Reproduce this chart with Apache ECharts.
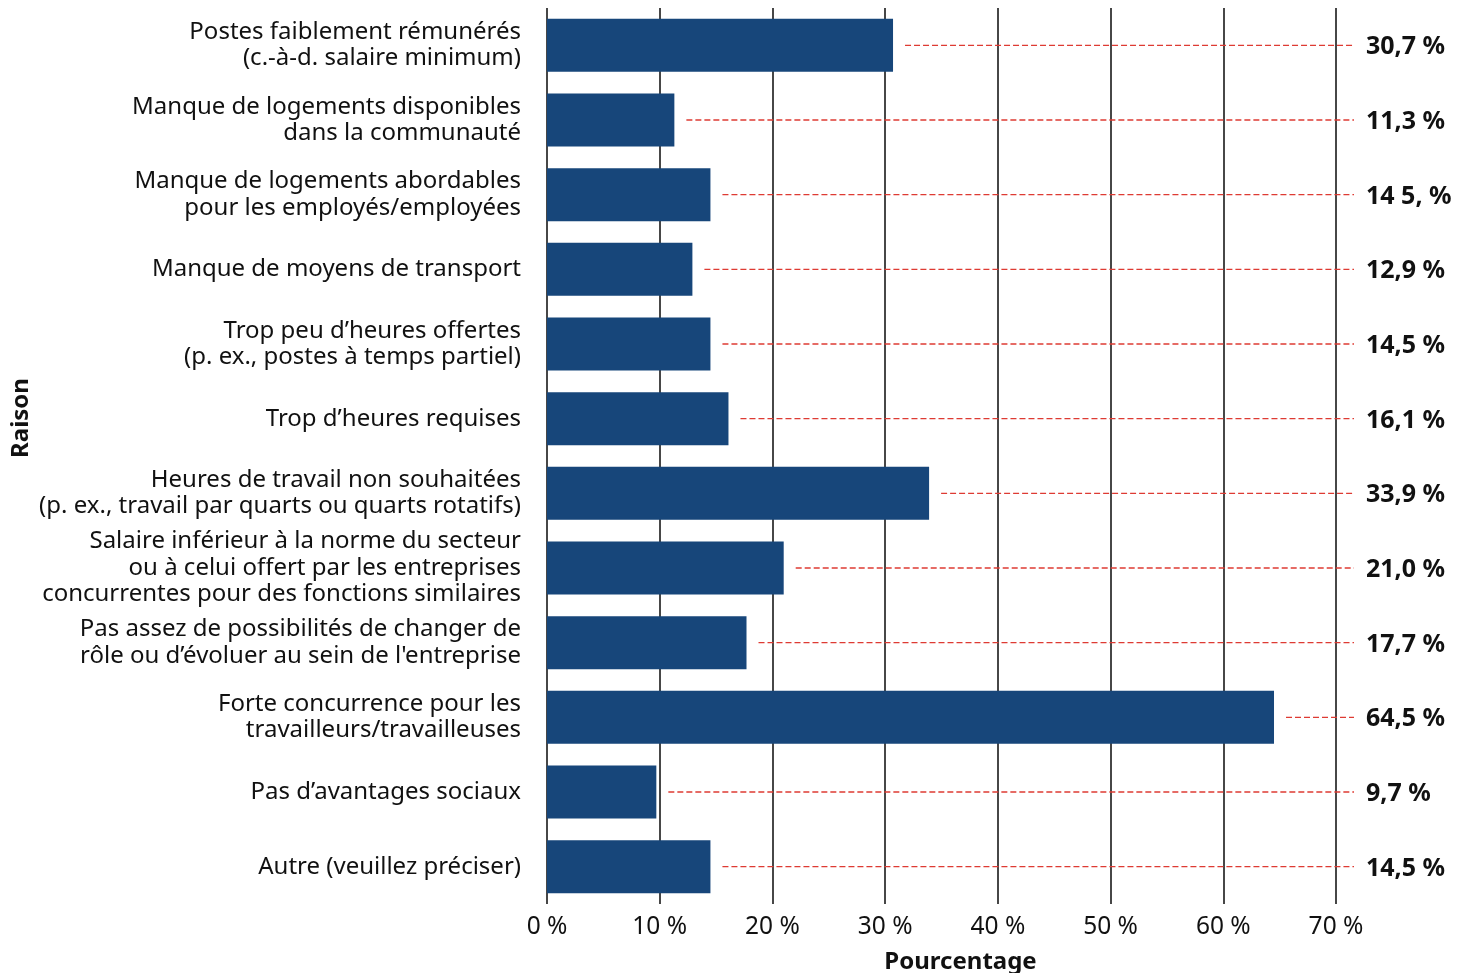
<!DOCTYPE html>
<html>
<head>
<meta charset="utf-8">
<script src="https://cdn.jsdelivr.net/npm/echarts@6/dist/echarts.min.js"></script>
<style>
  html, body { margin: 0; padding: 0; background: #fff; }
  #chart { width: 1465px; height: 973px; }
</style>
</head>
<body>
<div id="chart"></div>
<script>
// Reasons given for recruitment difficulties, share of respondents (%)
const categories = [
  "Postes faiblement rémunérés\n(c.-à-d. salaire minimum)",
  "Manque de logements disponibles\ndans la communauté",
  "Manque de logements abordables\npour les employés/employées",
  "Manque de moyens de transport",
  "Trop peu d’heures offertes\n(p. ex., postes à temps partiel)",
  "Trop d’heures requises",
  "Heures de travail non souhaitées\n(p. ex., travail par quarts ou quarts rotatifs)",
  "Salaire inférieur à la norme du secteur\nou à celui offert par les entreprises\nconcurrentes pour des fonctions similaires",
  "Pas assez de possibilités de changer de\nrôle ou d’évoluer au sein de l'entreprise",
  "Forte concurrence pour les\ntravailleurs/travailleuses",
  "Pas d’avantages sociaux",
  "Autre (veuillez préciser)"
];
const values = [30.7, 11.3, 14.5, 12.9, 14.5, 16.1, 33.9, 21.0, 17.7, 64.5, 9.7, 14.5];
const valueLabels = ["30,7 %", "11,3 %", "14 5, %", "12,9 %", "14,5 %", "16,1 %", "33,9 %", "21,0 %", "17,7 %", "64,5 %", "9,7 %", "14,5 %"];
const xTicks = [0, 10, 20, 30, 40, 50, 60, 70];

const FONT = "'Noto Sans', 'Open Sans', sans-serif";
const BAR = "#17467a";

const chart = echarts.init(document.getElementById('chart'), null, { renderer: 'canvas' });

chart.setOption({
  animation: false,
  backgroundColor: '#fff',
  grid: { left: 547, right: 129, top: 8, bottom: 69, containLabel: false, outerBoundsMode: 'none' },
  xAxis: {
    type: 'value',
    min: xTicks[0],
    max: xTicks[xTicks.length - 1],
    interval: 10,
    name: 'Pourcentage',
    nameLocation: 'middle',
    nameGap: 46,
    nameMoveOverlap: false,
    nameTextStyle: { fontFamily: FONT, fontSize: 24, fontWeight: 'bold', color: '#111', padding: [0, 0, 0, 38] },
    axisLine: { show: false },
    axisTick: { show: false },
    axisLabel: { fontFamily: FONT, fontSize: 24.5, color: '#111', margin: 11, formatter: v => v + ' %' },
    splitLine: { show: true, lineStyle: { color: '#333', width: 1.8 } }
  },
  yAxis: {
    type: 'category',
    data: categories,
    inverse: true,
    name: 'Raison',
    nameLocation: 'middle',
    nameGap: 514,
    nameMoveOverlap: false,
    nameRotate: 90,
    nameTextStyle: { fontFamily: FONT, fontSize: 24, fontWeight: 'bold', color: '#111', padding: [0, 0, 0, 76] },
    axisLine: { show: false },
    axisTick: { show: false },
    axisLabel: { fontFamily: FONT, fontSize: 24, color: '#111', margin: 26, lineHeight: 26.5, align: 'right' }
  },
  series: [
    {
      type: 'bar',
      data: values,
      barWidth: 53,
      itemStyle: { color: BAR },
      z: 3
    },
    {
      // dashed leader from each bar end to its value label on the right
      type: 'custom',
      data: values.map((v, i) => [v, i]),
      encode: { x: 0, y: 1 },
      z: 4,
      renderItem: function (params, api) {
        const p = api.coord([api.value(0), api.value(1)]);
        const cs = params.coordSys;
        const endX = cs.x + cs.width + 18;
        return {
          type: 'group',
          children: [
            {
              type: 'line',
              shape: { x1: p[0] + 12, y1: p[1], x2: endX, y2: p[1] },
              style: { stroke: '#de3b33', lineWidth: 1.4, lineDash: [6, 3] }
            },
            {
              type: 'text',
              x: endX + 12,
              y: p[1] + 2,
              style: {
                text: valueLabels[params.dataIndex],
                fontFamily: FONT,
                fontSize: 25,
                fontWeight: 'bold',
                fill: '#111',
                align: 'left',
                verticalAlign: 'middle'
              }
            }
          ]
        };
      }
    }
  ]
});
</script>
</body>
</html>
